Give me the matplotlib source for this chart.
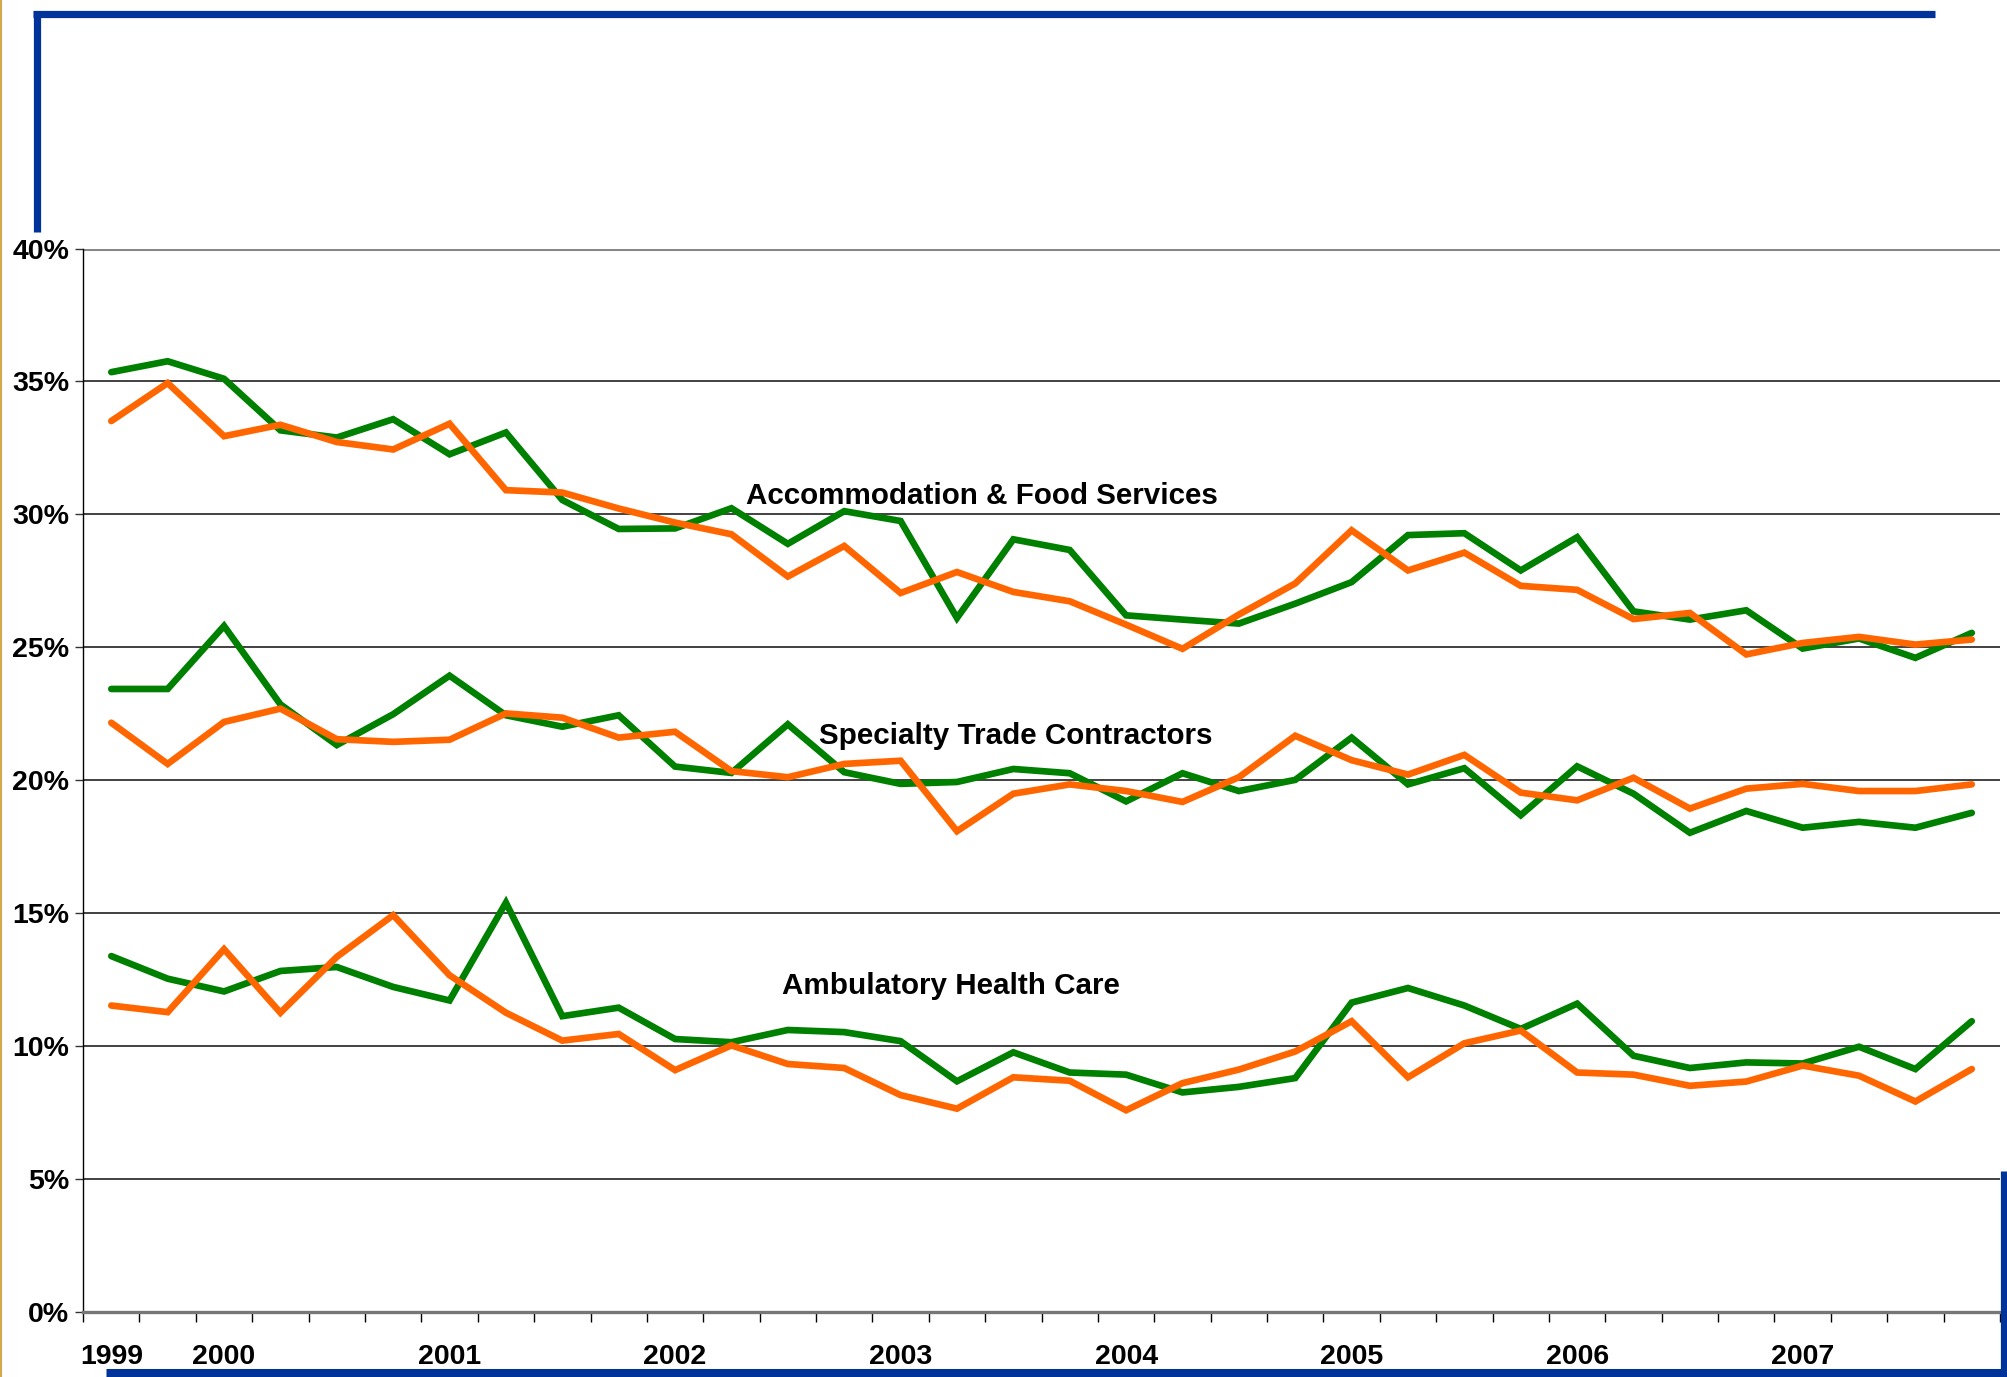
import matplotlib.pyplot as plt
from matplotlib.lines import Line2D
from matplotlib.ticker import FixedLocator, FuncFormatter

# quarterly, 1999 Q3 .. 2007 Q4
quarters = list(range(34))
year_labels = {0: '1999', 2: '2000', 6: '2001', 10: '2002', 14: '2003',
               18: '2004', 22: '2005', 26: '2006', 30: '2007'}

accom_green = [35.35, 35.76, 35.1, 33.16, 32.89, 33.58, 32.26, 33.08, 30.54, 29.45,
               29.47, 30.23, 28.89, 30.12, 29.75, 26.1, 29.06, 28.66, 26.2, 26.04,
               25.89, 26.64, 27.45, 29.22, 29.29, 27.89, 29.14, 26.35, 26.04, 26.39,
               24.95, 25.33, 24.6, 25.54]
accom_orange = [33.51, 34.94, 32.94, 33.37, 32.72, 32.44, 33.41, 30.91, 30.82, 30.22,
                29.69, 29.25, 27.66, 28.81, 27.04, 27.83, 27.08, 26.73, 25.85, 24.94,
                26.23, 27.4, 29.4, 27.89, 28.56, 27.31, 27.16, 26.06, 26.29, 24.73,
                25.16, 25.39, 25.1, 25.29]
spec_green = [23.43, 23.43, 25.8, 22.85, 21.32, 22.48, 23.93, 22.44, 22.01, 22.44,
              20.51, 20.27, 22.1, 20.3, 19.86, 19.93, 20.42, 20.26, 19.2, 20.26,
              19.59, 20.01, 21.6, 19.84, 20.45, 18.68, 20.52, 19.49, 18.02, 18.84,
              18.21, 18.43, 18.21, 18.77]
spec_orange = [22.16, 20.61, 22.19, 22.69, 21.54, 21.44, 21.52, 22.51, 22.35, 21.6,
               21.82, 20.34, 20.11, 20.61, 20.73, 18.08, 19.49, 19.84, 19.59, 19.18,
               20.11, 21.67, 20.75, 20.21, 20.95, 19.53, 19.24, 20.09, 18.93, 19.68,
               19.86, 19.59, 19.59, 19.84]
amb_green = [13.38, 12.53, 12.05, 12.82, 12.97, 12.22, 11.71, 15.39, 11.12, 11.44,
             10.26, 10.14, 10.6, 10.52, 10.18, 8.67, 9.76, 9.0, 8.92, 8.25,
             8.46, 8.79, 11.63, 12.18, 11.52, 10.64, 11.59, 9.63, 9.17, 9.38,
             9.34, 9.97, 9.13, 10.93]
amb_orange = [11.52, 11.27, 13.64, 11.25, 13.35, 14.92, 12.66, 11.25, 10.2, 10.45,
              9.09, 10.02, 9.32, 9.17, 8.15, 7.64, 8.82, 8.69, 7.58, 8.6,
              9.11, 9.79, 10.93, 8.82, 10.1, 10.58, 9.0, 8.92, 8.5, 8.66,
              9.26, 8.88, 7.91, 9.13]

GREEN = '#008000'
ORANGE = '#ff6600'
BLUE = '#003399'
FONT = ['Liberation Sans', 'DejaVu Sans']

fig = plt.figure(figsize=(20.07, 13.77), dpi=100)
ax = fig.add_axes([0.0414, 0.0474, 0.9551, 0.7721])

for g, o in [(accom_green, accom_orange), (spec_green, spec_orange), (amb_green, amb_orange)]:
    ax.plot(quarters, g, color=GREEN, lw=4.8, solid_joinstyle='miter', solid_capstyle='round', zorder=3)
    ax.plot(quarters, o, color=ORANGE, lw=4.8, solid_joinstyle='miter', solid_capstyle='round', zorder=4)

ax.set_xlim(-0.5, 33.5)
ax.set_ylim(0, 40)

# gridlines
for v in range(5, 40, 5):
    ax.axhline(v, color='#333333', lw=1.3, zorder=1)
ax.axhline(40, color='#888888', lw=2.2, zorder=1)

for s in ['top', 'right']:
    ax.spines[s].set_visible(False)
ax.spines['bottom'].set_color('#777777')
ax.spines['bottom'].set_linewidth(2.4)
ax.spines['left'].set_color('black')
ax.spines['left'].set_linewidth(1.0)

ax.set_yticks(range(0, 41, 5))
ax.yaxis.set_major_formatter(FuncFormatter(lambda v, p: '%d%%' % v))
ax.tick_params(axis='y', length=6, width=1, color='#333333', pad=4)

ax.set_xticks(list(year_labels.keys()))
ax.set_xticklabels(list(year_labels.values()))
ax.xaxis.set_minor_locator(FixedLocator([i - 0.5 for i in range(35)]))
ax.tick_params(axis='x', which='major', length=0, pad=23)
ax.tick_params(axis='x', which='minor', length=7, width=1, color='black')

for lab in ax.get_xticklabels() + ax.get_yticklabels():
    lab.set_fontfamily(FONT)
    lab.set_fontweight('bold')
    lab.set_fontsize(20.5)

ax.text(11.25, 30.7, 'Accommodation & Food Services', family=FONT, fontweight='bold',
        fontsize=21.3, ha='left', va='center')
ax.text(12.55, 21.65, 'Specialty Trade Contractors', family=FONT, fontweight='bold',
        fontsize=21.3, ha='left', va='center')
ax.text(11.9, 12.25, 'Ambulatory Health Care', family=FONT, fontweight='bold',
        fontsize=21.3, ha='left', va='center')

# slide decoration bars
W, H = 2007.0, 1377.0
fig.add_artist(Line2D([33 / W, 1935 / W], [1 - 13.5 / H, 1 - 13.5 / H], color=BLUE, lw=5.2,
                      solid_capstyle='butt'))
fig.add_artist(Line2D([36.5 / W, 36.5 / W], [1 - 11 / H, 1 - 232 / H], color=BLUE, lw=5.2,
                      solid_capstyle='butt'))
fig.add_artist(Line2D([106 / W, 1.0], [4.5 / H, 4.5 / H], color=BLUE, lw=6.5, solid_capstyle='butt'))
fig.add_artist(Line2D([2003.5 / W, 2003.5 / W], [0, 1 - 1171 / H], color=BLUE, lw=5.2,
                      solid_capstyle='butt'))
fig.add_artist(Line2D([1 / W, 1 / W], [0, 1], color='#d4a84b', lw=1.5))

fig.savefig('out.png', dpi=100)
